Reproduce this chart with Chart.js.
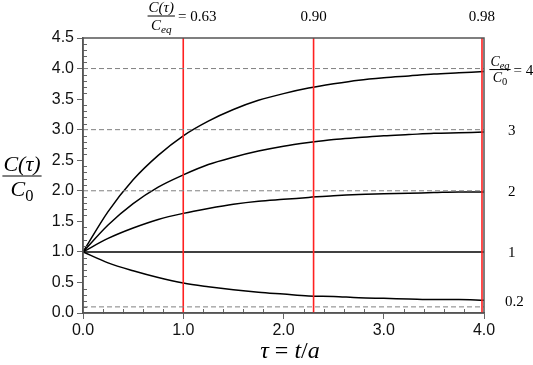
<!DOCTYPE html>
<html><head><meta charset="utf-8">
<script src="https://cdn.jsdelivr.net/npm/chart.js@4"></script>
<style>html,body{margin:0;padding:0;background:#fff}</style>
</head><body>
<canvas id="c" width="533" height="365" style="width:533px;height:365px"></canvas>
<script>
// ---- data ----
const tau      = [0, 0.25, 0.5, 0.75, 1.0, 1.25, 1.5, 1.75, 2.0, 2.25, 2.5, 2.75, 3.0, 3.25, 3.5, 3.75, 4.0];
const ratio4   = [1, 1.66, 2.18, 2.58, 2.90, 3.14, 3.33, 3.48, 3.59, 3.68, 3.75, 3.81, 3.85, 3.88, 3.91, 3.93, 3.95];
const ratio3   = [1, 1.44, 1.79, 2.06, 2.26, 2.43, 2.55, 2.65, 2.73, 2.79, 2.84, 2.87, 2.90, 2.92, 2.94, 2.95, 2.96];
const ratio2   = [1, 1.22, 1.39, 1.53, 1.63, 1.71, 1.78, 1.83, 1.86, 1.89, 1.92, 1.94, 1.95, 1.96, 1.97, 1.98, 1.98];
const ratio1   = [1, 1, 1, 1, 1, 1, 1, 1, 1, 1, 1, 1, 1, 1, 1, 1, 1];
const ratio02  = [1, 0.82, 0.69, 0.58, 0.49, 0.43, 0.38, 0.34, 0.31, 0.28, 0.27, 0.25, 0.24, 0.23, 0.22, 0.22, 0.21];
const curves   = [ratio4, ratio3, ratio2, ratio1, ratio02];
const curveLabels = ["4", "3", "2", "1", "0.2"];
const curveLabelLevels = [4, 3, 2, 1, 0.2];
const refLevels = [4, 3, 2, 0.1];
const markerTau = [1.0, 2.3, 3.98];
const markerLabels = ["0.63", "0.90", "0.98"];
const xMin = 0, xMax = 4, yMin = 0, yMax = 4.5;

// ---- datasets ----
const datasets = [];
refLevels.forEach(v => datasets.push({
  data: [{x: xMin, y: v}, {x: xMax, y: v}],
  borderColor: '#808080', borderWidth: 1, borderDash: [5, 3], pointRadius: 0
}));
markerTau.forEach(t => datasets.push({
  data: [{x: t, y: yMin}, {x: t, y: yMax}],
  borderColor: '#ff2020', borderWidth: 1.6, pointRadius: 0
}));
curves.forEach(arr => datasets.push({
  data: tau.map((t, i) => ({x: t, y: arr[i]})),
  borderColor: '#000', borderWidth: 1.5, pointRadius: 0, cubicInterpolationMode: 'monotone'
}));

// ---- rich text helper ----
function drawRich(ctx, parts, x, y, size, align) {
  let w = 0;
  const m = parts.map(p => {
    const s = p.sub ? size * 0.75 : size;
    ctx.font = (p.it ? 'italic ' : '') + s + 'px "Liberation Serif", serif';
    const pw = ctx.measureText(p.t).width;
    w += pw;
    return {p, s, pw};
  });
  let cx = align === 'center' ? x - w / 2 : (align === 'right' ? x - w : x);
  m.forEach(o => {
    ctx.font = (o.p.it ? 'italic ' : '') + o.s + 'px "Liberation Serif", serif';
    ctx.fillText(o.p.t, cx, y + (o.p.sub ? size * 0.22 : 0));
    cx += o.pw;
  });
  return w;
}
function drawFrac(ctx, num, den, cx, cy, size) {
  ctx.textAlign = 'left';
  ctx.textBaseline = 'alphabetic';
  const w1 = drawRich(ctx, num, cx, cy - size * 0.25, size, 'center');
  const w2 = drawRich(ctx, den, cx, cy + size * 0.9, size, 'center');
  const w = Math.max(w1, w2) + 2;
  ctx.beginPath();
  ctx.lineWidth = 1;
  ctx.strokeStyle = '#000';
  ctx.moveTo(cx - w / 2, cy); ctx.lineTo(cx + w / 2, cy);
  ctx.stroke();
  return w;
}

const decor = {
  id: 'decor',
  afterDatasetsDraw(chart) {
    const {ctx, chartArea: a, scales: {x, y}} = chart;
    ctx.save();
    // minor ticks
    ctx.strokeStyle = '#666'; ctx.lineWidth = 1;
    ctx.beginPath();
    for (let i = 0; i <= 45; i++) {
      if (i % 5 === 0) continue;
      const py = Math.round(y.getPixelForValue(i / 10)) + 0.5;
      ctx.moveTo(a.left - 1, py); ctx.lineTo(a.left + 4, py);
    }
    for (let i = 0; i <= 20; i++) {
      if (i % 5 === 0) continue;
      const px = Math.round(x.getPixelForValue(i / 5)) + 0.5;
      ctx.moveTo(px, a.bottom + 1); ctx.lineTo(px, a.bottom - 4);
    }
    ctx.stroke();
    // frame
    ctx.strokeStyle = '#555'; ctx.lineWidth = 1.5;
    ctx.strokeRect(a.left, a.top, a.right - a.left, a.bottom - a.top);
    ctx.restore();
  },
  afterDraw(chart) {
    const {ctx, chartArea: a, scales: {x, y}} = chart;
    ctx.save();
    ctx.fillStyle = '#000';
    // top marker labels
    const topY = 21;
    markerTau.forEach((t, i) => {
      const px = x.getPixelForValue(t);
      if (i === 0) {
        const fc = px - 22;
        const fw = drawFrac(ctx, [{t:'C(τ)', it:true}], [{t:'C', it:true}, {t:'eq', it:true, sub:true}], fc, 16, 15);
        ctx.textAlign = 'left';
        ctx.font = '15px "Liberation Serif", serif';
        ctx.fillText('= ' + markerLabels[i], fc + fw / 2 + 3, topY);
      } else {
        ctx.textAlign = 'center';
        ctx.font = '15px "Liberation Serif", serif';
        ctx.fillText(markerLabels[i], px, topY);
      }
    });
    // right ratio labels
    curveLabels.forEach((lab, i) => {
      const py = y.getPixelForValue(curveLabelLevels[i]);
      if (i === 0) {
        const cx = a.right + 16;
        const fw = drawFrac(ctx, [{t:'C', it:true}, {t:'eq', it:true, sub:true}], [{t:'C', it:true}, {t:'0', sub:true}], cx, py + 1, 14);
        ctx.textAlign = 'left';
        ctx.font = '15px "Liberation Serif", serif';
        ctx.fillText('= ' + lab, cx + fw / 2 + 3, py + 6);
      } else {
        ctx.textAlign = 'left';
        ctx.font = '15px "Liberation Serif", serif';
        const tx = lab.length > 1 ? a.right + 21 : a.right + 24;
        ctx.fillText(lab, tx, py + 5);
      }
    });
    // y title
    drawFrac(ctx, [{t:'C(τ)', it:true}], [{t:'C', it:true}, {t:'0', sub:true}], 22, 176, 22);
    // x title
    ctx.textBaseline = 'alphabetic';
    drawRich(ctx, [{t:'τ', it:true}, {t:' = '}, {t:'t', it:true}, {t:'/'}, {t:'a', it:true}], 290, 358, 24, 'center');
    ctx.restore();
  }
};

const tickFont = {family: '"Liberation Sans", Arial, sans-serif', size: 16};
new Chart(document.getElementById('c'), {
  type: 'line',
  data: {datasets},
  options: {
    responsive: false,
    animation: false,
    parsing: false,
    layout: {padding: {left: 0, top: 38, right: 49, bottom: 0}},
    plugins: {legend: {display: false}, tooltip: {enabled: false}},
    scales: {
      x: {
        type: 'linear', min: xMin, max: xMax,
        ticks: {stepSize: 1, callback: v => Number(v).toFixed(1), font: tickFont, color: '#111', padding: 2, maxRotation: 0},
        grid: {drawOnChartArea: false, tickLength: 6, color: '#666'},
        border: {color: '#555', width: 1.5},
        afterFit: s => { s.height = 52; }
      },
      y: {
        type: 'linear', min: yMin, max: yMax,
        ticks: {stepSize: 0.5, callback: v => Number(v).toFixed(1), font: tickFont, color: '#111', padding: 3},
        grid: {drawOnChartArea: false, tickLength: 6, color: '#666'},
        border: {color: '#555', width: 1.5},
        afterFit: s => { s.width = 83; }
      }
    }
  },
  plugins: [decor]
});
</script>
</body></html>
